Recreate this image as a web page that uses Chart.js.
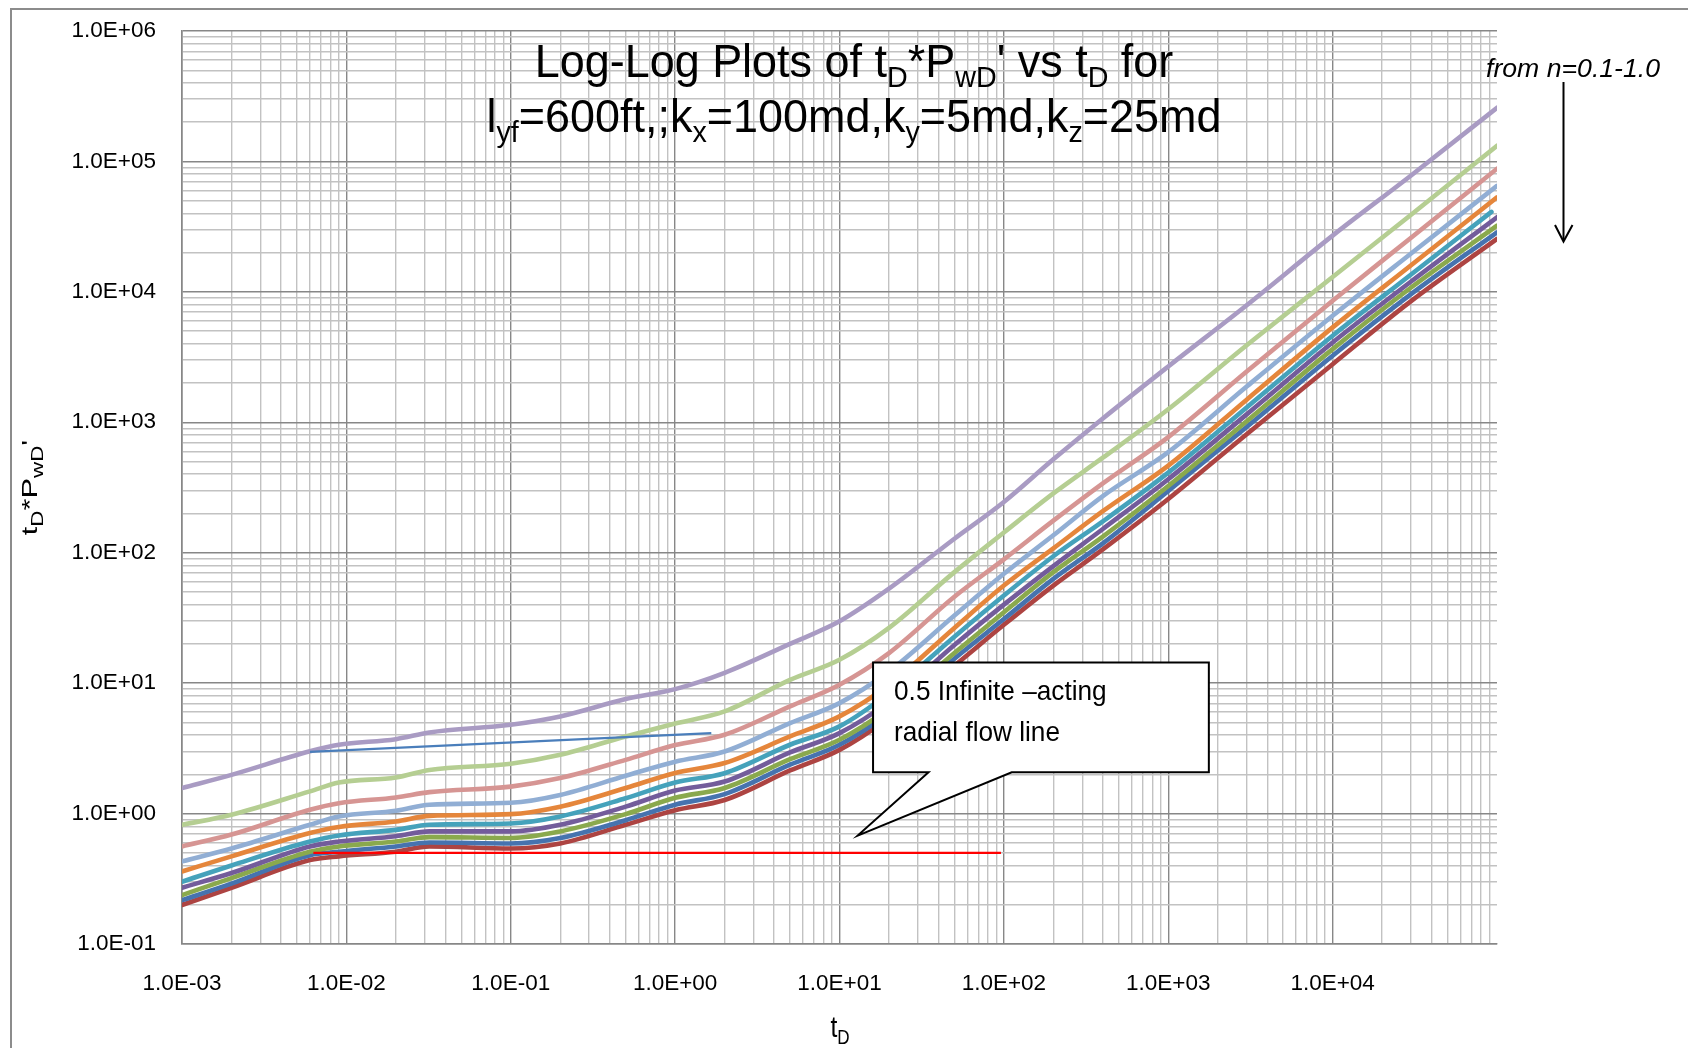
<!DOCTYPE html>
<html><head><meta charset="utf-8">
<script src="https://cdn.jsdelivr.net/npm/chart.js@4.4.1/dist/chart.umd.min.js"></script>
<style>html,body{margin:0;padding:0;background:#fff;}canvas{display:block;}</style>
</head><body>
<canvas id="c" width="1688" height="1048"></canvas>
<script>
// ---------------- data ----------------
const tD     = [0.001,0.002,0.006,0.009,0.02,0.032,0.1,0.2,0.5,1,2,5,10,20,50,100,200,400,1000,3000,10000,30000,100000];
const tD_n06 = [0.001,0.002,0.006,0.009,0.02,0.032,0.1,0.2,0.5,1,2,5,10,20,50,100,200,400,1000,3000,10000,30000,92500];

const n01 = [1.57,1.98,3.0,3.37,3.72,4.19,4.8,5.56,7.55,9.0,12.0,20.0,29.8,53,128,245,520,1070,2680,7900,27000,78000,258000];
const n02 = [0.82,0.98,1.48,1.73,1.89,2.16,2.41,2.82,3.9,4.9,6.07,10.6,15.1,26.5,71,143,285,535,1260,3900,13000,39000,132000];
const n03 = [0.56,0.69,1.07,1.2,1.33,1.46,1.61,1.87,2.58,3.35,4.02,6.64,9.73,17.0,46,89,176,340,770,2450,8560,26000,88000];
const n04 = [0.43,0.54,0.82,0.95,1.05,1.17,1.21,1.39,1.95,2.5,2.99,4.94,7.03,12.3,33,69,136,272,590,1880,6560,19700,65000];
const n05 = [0.36,0.47,0.71,0.79,0.87,0.96,0.99,1.13,1.57,2.05,2.44,3.9,5.56,9.7,26.5,56,108,208,465,1490,5340,16000,53000];
const n06 = [0.30,0.40,0.61,0.68,0.75,0.82,0.84,0.95,1.31,1.73,2.04,3.37,4.66,8.4,22.7,47,94,174,411,1300,4610,13600,41000];
const n07 = [0.27,0.35,0.56,0.61,0.67,0.73,0.73,0.82,1.13,1.5,1.76,2.94,4.14,7.2,19.6,40,79,152,366,1150,4090,12000,37300];
const n08 = [0.237,0.32,0.51,0.56,0.61,0.66,0.65,0.73,0.99,1.32,1.57,2.61,3.68,6.4,17,35,71,133,325,1020,3640,10800,32200];
const n09 = [0.217,0.29,0.48,0.51,0.56,0.60,0.59,0.65,0.89,1.17,1.41,2.37,3.37,5.9,15.4,31,63,118,297,920,3240,9600,28600];
const n10 = [0.199,0.27,0.44,0.47,0.51,0.56,0.54,0.59,0.82,1.06,1.27,2.14,3.08,5.4,13.6,28,56,106,258,810,2790,8500,25500];

const radialT = [0.0063, 96];
const radialP = [0.5, 0.5];
const blueT   = [0.006, 1.66];
const blueP   = [2.97, 4.14];

const xTickValues = [1e-3,1e-2,1e-1,1e0,1e1,1e2,1e3,1e4];
const xTickLabels = ['1.0E-03','1.0E-02','1.0E-01','1.0E+00','1.0E+01','1.0E+02','1.0E+03','1.0E+04'];
const yTickValues = [1e-1,1e0,1e1,1e2,1e3,1e4,1e5,1e6];
const yTickLabels = ['1.0E-01','1.0E+00','1.0E+01','1.0E+02','1.0E+03','1.0E+04','1.0E+05','1.0E+06'];

// ---------------- styling ----------------
const SANS = '"Liberation Sans", Arial, sans-serif';
const TICK_SIZE = 22.5;
const MAJOR = '#878787', MINOR = '#C2C2C2';

function decadeTicks(minExp, maxExp, withTop){
  const t = [];
  for (let e = minExp; e < maxExp; e++)
    for (let k = 1; k <= 9; k++) t.push({value: +(k*Math.pow(10,e)).toPrecision(8), major: k === 1});
  if (withTop) t.push({value: Math.pow(10,maxExp), major: true});
  return t;
}
function lookup(vals, labels, v){
  for (let i = 0; i < vals.length; i++) if (Math.abs(Math.log10(v) - Math.log10(vals[i])) < 1e-9) return labels[i];
  return '';
}
function pts(xs, ys){ return xs.map((x,i)=>({x:x, y:ys[i]})); }

const curves = [
  {label:'n=0.1', t:tD,     p:n01, color:'#A99BC3'},
  {label:'n=0.2', t:tD,     p:n02, color:'#B5CE92'},
  {label:'n=0.3', t:tD,     p:n03, color:'#D69593'},
  {label:'n=0.4', t:tD,     p:n04, color:'#91AED4'},
  {label:'n=0.5', t:tD,     p:n05, color:'#E5863B'},
  {label:'n=0.6', t:tD_n06, p:n06, color:'#45A2BB'},
  {label:'n=0.7', t:tD,     p:n07, color:'#735C9B'},
  {label:'n=0.8', t:tD,     p:n08, color:'#8AA94D'},
  {label:'n=0.9', t:tD,     p:n09, color:'#4673AF'},
  {label:'n=1.0', t:tD,     p:n10, color:'#AD4442'}
];

const datasets = [
  {label:'radial flow 0.5', data: pts(radialT, radialP), borderColor:'#FF0000', borderWidth:2.2, order:0, pointRadius:0, showLine:true, tension:0},
  {label:'early line', data: pts(blueT, blueP), borderColor:'#4A7EBB', borderWidth:2.2, order:0, pointRadius:0, showLine:true, tension:0}
].concat(curves.map((c,i)=>({
  label:c.label, data: pts(c.t, c.p), borderColor:c.color, backgroundColor:c.color,
  borderWidth:4.6, pointRadius:0, showLine:true, cubicInterpolationMode:'monotone',
  borderCapStyle:'round', borderJoinStyle:'round', order: 1 + i
})));

// annotation anchors in data units
const callout = {t1:16.0, t2:1766, p1:14.4, p2:2.07, tipT:12.9, tipP:0.678, notchT1:34.8, notchT2:111.6};

const titleLine1 = [['Log-Log Plots of t'],['D',1],['*P'],['wD',1],["' vs t"],['D',1],[' for']];
const titleLine2 = [['l'],['yf',1],['=600ft,;k'],['x',1],['=100md,k'],['y',1],['=5md,k'],['z',1],['=25md']];
const yTitle = [['t'],['D',1],['*P'],['wD',1],["'"]];
const xTitle = [['t'],['D',1]];

function richWidth(ctx, segs, f, fs){
  let w = 0;
  for (const s of segs){ ctx.font = s[1] ? fs : f; w += ctx.measureText(s[0]).width; }
  return w;
}
function drawRich(ctx, segs, f, fs, shift){
  const w = richWidth(ctx, segs, f, fs);
  let x = -w/2;
  for (const s of segs){
    ctx.font = s[1] ? fs : f;
    ctx.fillText(s[0], x, s[1] ? shift : 0);
    x += ctx.measureText(s[0]).width;
  }
}

const overlay = {
  id:'overlay',
  afterDraw(chart){
    const ctx = chart.ctx, xs = chart.scales.x, ys = chart.scales.y;
    ctx.save();
    ctx.textBaseline = 'alphabetic'; ctx.textAlign = 'left';
    // outer chart frame
    ctx.strokeStyle = '#8C8C8C'; ctx.lineWidth = 2;
    ctx.beginPath(); ctx.moveTo(11, 1048); ctx.lineTo(11, 9); ctx.lineTo(1688, 9); ctx.stroke();

    // title
    ctx.fillStyle = '#000';
    const f1 = '47px ' + SANS, fs1 = '30px ' + SANS;
    const w2 = richWidth(ctx, titleLine2, f1, fs1);
    const sx = 735 / w2;
    ctx.save(); ctx.translate(854, 76.5); ctx.scale(sx, 1); drawRich(ctx, titleLine1, f1, fs1, 10); ctx.restore();
    ctx.save(); ctx.translate(854, 131.5); ctx.scale(sx, 1); drawRich(ctx, titleLine2, f1, fs1, 10); ctx.restore();

    // x axis title
    ctx.save(); ctx.translate(840, 1037); ctx.scale(0.95, 1.15);
    drawRich(ctx, xTitle, '26px ' + SANS, '18px ' + SANS, 6); ctx.restore();
    // y axis title
    ctx.save(); ctx.translate(37, 487.5); ctx.rotate(-Math.PI/2); ctx.scale(1.4, 1);
    drawRich(ctx, yTitle, '22px ' + SANS, '16px ' + SANS, 6); ctx.restore();

    // "from n=0.1-1.0" note and arrow
    ctx.save();
    ctx.font = 'italic 24px ' + SANS;
    const wn = ctx.measureText('from n=0.1-1.0').width;
    ctx.translate(1486, 77.3); ctx.scale(174 / wn, 1.05); ctx.fillText('from n=0.1-1.0', 0, 0);
    ctx.restore();
    ctx.strokeStyle = '#000'; ctx.lineWidth = 2;
    ctx.beginPath(); ctx.moveTo(1563.5, 82); ctx.lineTo(1563.5, 241); ctx.stroke();
    ctx.beginPath(); ctx.moveTo(1555, 225); ctx.lineTo(1563.5, 241.5); ctx.lineTo(1572.5, 225); ctx.stroke();

    // callout
    const L = xs.getPixelForValue(callout.t1), R = xs.getPixelForValue(callout.t2);
    const T = ys.getPixelForValue(callout.p1), B = ys.getPixelForValue(callout.p2);
    const tx = xs.getPixelForValue(callout.tipT), ty = ys.getPixelForValue(callout.tipP);
    const n1 = xs.getPixelForValue(callout.notchT1), n2 = xs.getPixelForValue(callout.notchT2);
    ctx.beginPath();
    ctx.moveTo(L, T); ctx.lineTo(R, T); ctx.lineTo(R, B); ctx.lineTo(n2, B); ctx.lineTo(tx, ty); ctx.lineTo(n1, B); ctx.lineTo(L, B); ctx.closePath();
    ctx.fillStyle = '#fff'; ctx.fill();
    ctx.strokeStyle = '#000'; ctx.lineWidth = 2; ctx.lineJoin = 'miter'; ctx.stroke();
    ctx.fillStyle = '#000'; ctx.font = '27px ' + SANS;
    ctx.save(); ctx.translate(L + 21, T + 37.5); ctx.scale(0.97, 1.05); ctx.fillText('0.5 Infinite \u2013acting', 0, 0); ctx.restore();
    ctx.save(); ctx.translate(L + 21, T + 78.5); ctx.scale(0.97, 1.05); ctx.fillText('radial flow line', 0, 0); ctx.restore();
    ctx.restore();
  }
};

new Chart(document.getElementById('c'), {
  type:'scatter',
  data:{datasets: datasets},
  options:{
    responsive:false, animation:false, devicePixelRatio:1,
    layout:{autoPadding:false, padding:{top:31, right:191, bottom:0, left:0}},
    plugins:{legend:{display:false}, tooltip:{enabled:false}, title:{display:false}},
    scales:{
      x:{
        type:'logarithmic', position:'bottom', min:1e-3, max:1e5,
        afterBuildTicks: s => { s.ticks = decadeTicks(-3, 5, false); },
        afterFit: s => { s.height = 104; s.paddingLeft = 0; s.paddingRight = 0; s.paddingTop = 0; s.paddingBottom = 0; },
        ticks:{autoSkip:false, maxRotation:0, minRotation:0, padding:26.5, color:'#000',
               font:{family:SANS, size:TICK_SIZE},
               callback: v => lookup(xTickValues, xTickLabels, v)},
        grid:{drawTicks:false, lineWidth:1.4, color: c => (c.tick && c.tick.major) ? MAJOR : MINOR},
        border:{display:true, color:MAJOR, width:1.6}
      },
      y:{
        type:'logarithmic', position:'left', min:0.1, max:1e6,
        afterBuildTicks: s => { s.ticks = decadeTicks(-1, 6, true); },
        afterFit: s => { s.width = 182; s.paddingLeft = 0; s.paddingRight = 0; s.paddingTop = 0; s.paddingBottom = 0; },
        ticks:{autoSkip:false, padding:26, color:'#000',
               font:{family:SANS, size:TICK_SIZE},
               callback: v => lookup(yTickValues, yTickLabels, v)},
        grid:{drawTicks:false, lineWidth:1.4, color: c => (c.tick && c.tick.major) ? MAJOR : MINOR},
        border:{display:true, color:MAJOR, width:1.6}
      }
    }
  },
  plugins:[overlay]
});
</script>
</body></html>
